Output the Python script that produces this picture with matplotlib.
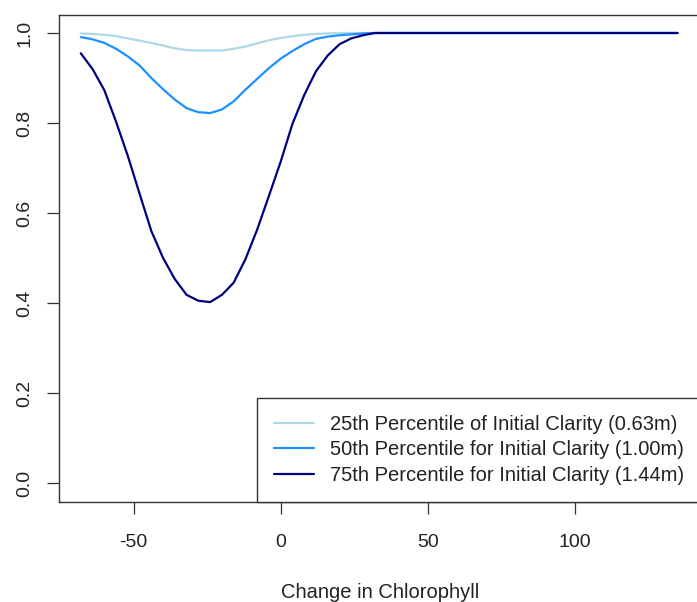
import matplotlib
matplotlib.use("Agg")
import matplotlib.pyplot as plt

plt.rcParams['font.family'] = ['Liberation Sans', 'DejaVu Sans']

chl_change = [-68, -64, -60, -56, -52, -48, -44, -40, -36, -32, -28, -24, -20,
              -16, -12, -8, -4, 0, 4, 8, 12, 16, 20, 24, 28, 32, 135]
p25 = [0.999, 0.998, 0.996, 0.993, 0.988, 0.983, 0.978, 0.972, 0.966, 0.962, 0.961,
       0.961, 0.961, 0.965, 0.970, 0.977, 0.984, 0.989, 0.993, 0.996, 0.998, 0.999,
       1.0, 1.0, 1.0, 1.0, 1.0]
p50 = [0.991, 0.986, 0.978, 0.965, 0.948, 0.928, 0.900, 0.875, 0.852, 0.833, 0.824,
       0.822, 0.830, 0.848, 0.874, 0.898, 0.922, 0.943, 0.960, 0.975, 0.987, 0.992,
       0.995, 0.997, 0.999, 1.0, 1.0]
p75 = [0.955, 0.920, 0.873, 0.803, 0.727, 0.643, 0.560, 0.500, 0.453, 0.418, 0.405,
       0.402, 0.418, 0.445, 0.497, 0.563, 0.638, 0.714, 0.798, 0.862, 0.915, 0.950,
       0.975, 0.988, 0.995, 1.0, 1.0]

labels = ["25th Percentile of Initial Clarity (0.63m)",
          "50th Percentile for Initial Clarity (1.00m)",
          "75th Percentile for Initial Clarity (1.44m)"]
colors = ["#ADD8E6", "#1E90FF", "#000080"]
xticks = [-50, 0, 50, 100]
yticks = [0.0, 0.2, 0.4, 0.6, 0.8, 1.0]

W, H = 697, 602
fig = plt.figure(figsize=(W / 100, H / 100), dpi=100)
left, right, top, bottom = 59, 701.4, 15, 501.7
ax = fig.add_axes([left / W, 1 - bottom / H, (right - left) / W, (bottom - top) / H])

for vals, c, lab in zip([p25, p50, p75], colors, labels):
    ax.plot(chl_change, vals, color=c, lw=1.6, label=lab,
            solid_joinstyle='round', solid_capstyle='round')

ax.set_xlim(-75.4, 143.1)
ax.set_ylim(-0.0416, 1.04)
ax.set_xticks(xticks)
ax.set_xticklabels([str(t) for t in xticks])
ax.set_yticks(yticks)
ax.set_yticklabels([f"{t:.1f}" for t in yticks], rotation=90, va='center')
ax.tick_params(axis='both', direction='out', length=8.3, width=0.9, color='#333333',
               labelsize=14, labelcolor='#222222')
ax.tick_params(axis='x', pad=15)
ax.tick_params(axis='y', pad=10)
for s in ax.spines.values():
    s.set_color('#333333')
    s.set_linewidth(1.0)

fig.text(380 / W, 1 - 592.5 / H, "Change in Chlorophyll", ha='center', va='center',
         fontsize=14.5, color='#222222')

leg = ax.legend(loc='lower right', borderaxespad=0, fontsize=14.5, frameon=True,
                fancybox=False, edgecolor='#333333', handlelength=2.0, handletextpad=0.8,
                labelspacing=0.32, borderpad=0.85, framealpha=1)
leg.get_frame().set_linewidth(1.0)
for t in leg.get_texts():
    t.set_color('#222222')

fig.savefig("out.png", dpi=100)
